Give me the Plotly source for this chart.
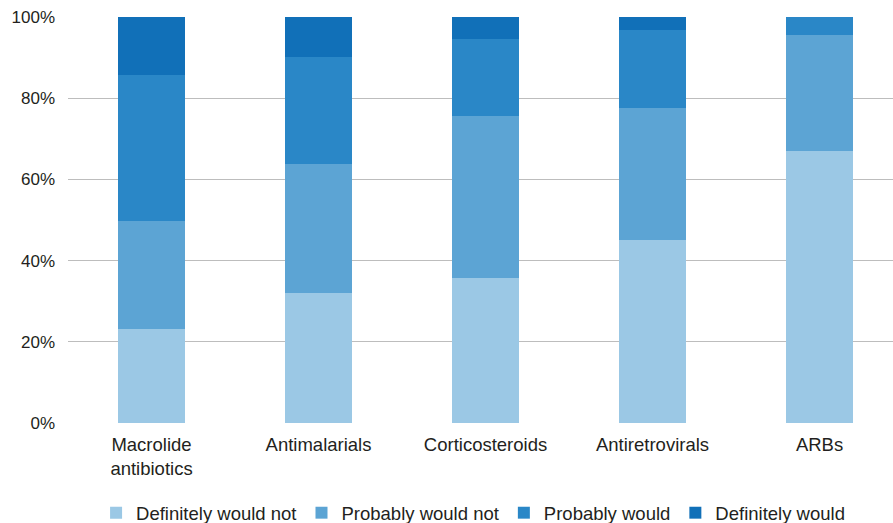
import plotly.graph_objects as go

# Drug classes on the x axis
categories = ["Macrolide<br>antibiotics", "Antimalarials", "Corticosteroids",
              "Antiretrovirals", "ARBs"]

# Share of respondents (%) per answer, stacked bottom to top
definitely_not = [23.2, 32.0, 35.7, 45.1, 67.0]
probably_not = [26.6, 31.8, 39.9, 32.5, 28.6]
probably_would = [35.9, 26.3, 19.0, 19.2, 4.4]
definitely_would = [14.3, 9.9, 5.4, 3.2, 0.0]

y_ticks = [0, 20, 40, 60, 80, 100]
y_tick_labels = ["0%", "20%", "40%", "60%", "80%", "100%"]

series = [
    ("Definitely would not", definitely_not, "#9bc8e5"),
    ("Probably would not", probably_not, "#5ca4d4"),
    ("Probably would", probably_would, "#2a87c7"),
    ("Definitely would", definitely_would, "#1170b8"),
]

fig = go.Figure()
for name, values, color in series:
    fig.add_trace(go.Bar(
        x=list(range(len(categories))), y=values, name=name,
        marker=dict(color=color, line=dict(width=0)),
        width=0.4,
    ))

font_family = "Liberation Sans, Arial, sans-serif"
text_color = "#231f20"

fig.update_layout(
    barmode="stack",
    width=893, height=523,
    margin=dict(l=68, r=0, t=17, b=100, autoexpand=False),
    paper_bgcolor="white", plot_bgcolor="white",
    font=dict(family=font_family, size=18, color=text_color),
    showlegend=True,
    legend=dict(
        orientation="h", x=0.491, xanchor="center",
        y=-0.222, yanchor="middle",
        font=dict(size=18.5, color=text_color),
        itemwidth=30, traceorder="normal",
        bgcolor="rgba(0,0,0,0)",
    ),
    xaxis=dict(
        tickmode="array",
        tickvals=list(range(len(categories))),
        ticktext=categories,
        range=[-0.5, 4.44],
        showgrid=False, zeroline=False,
        showline=False,
        ticks="", ticklabelstandoff=8,
        tickfont=dict(size=18.5, color=text_color),
    ),
    yaxis=dict(
        range=[0, 100],
        tickmode="array", tickvals=y_ticks, ticktext=y_tick_labels,
        showgrid=True, gridcolor="#bdbdbd", gridwidth=1,
        zeroline=False, showline=False,
        ticks="", ticklabelstandoff=12,
        tickfont=dict(size=17, color=text_color),
    ),
)

fig.write_html("out.html")
